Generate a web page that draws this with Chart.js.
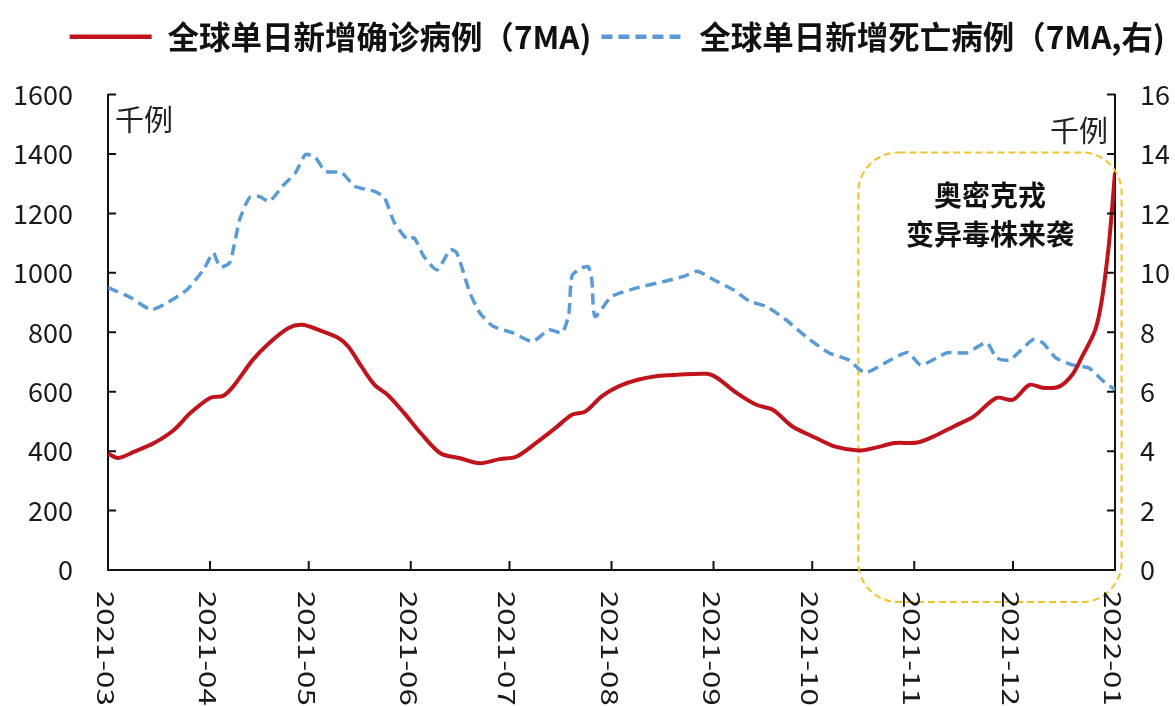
<!DOCTYPE html>
<html><head><meta charset="utf-8">
<script src="https://cdn.jsdelivr.net/npm/chart.js@4.4.1/dist/chart.umd.min.js"></script>
<style>html,body{margin:0;padding:0;background:#fff;}#wrap{width:1175px;height:706px;}</style>
</head><body><div id="wrap"><canvas id="c" width="1175" height="706"></canvas></div>
<script>
const monthLabels = ['2021-03','2021-04','2021-05','2021-06','2021-07','2021-08','2021-09','2021-10','2021-11','2021-12','2022-01'];
const leftTickValues = [0,200,400,600,800,1000,1200,1400,1600];
const rightTickValues = [0,2,4,6,8,10,12,14,16];
const seriesNames = ['全球单日新增确诊病例（7MA)', '全球单日新增死亡病例（7MA,右)'];

const caseDates = ['2021-03-01','2021-03-04','2021-03-09','2021-03-15','2021-03-21','2021-03-26','2021-04-01','2021-04-05','2021-04-08','2021-04-14','2021-04-19','2021-04-25','2021-04-29','2021-05-04','2021-05-10','2021-05-13','2021-05-17','2021-05-21','2021-05-25','2021-05-30','2021-06-04','2021-06-10','2021-06-16','2021-06-22','2021-06-28','2021-07-03','2021-07-09','2021-07-15','2021-07-20','2021-07-24','2021-07-29','2021-08-03','2021-08-09','2021-08-15','2021-08-21','2021-08-30','2021-09-02','2021-09-08','2021-09-14','2021-09-19','2021-09-25','2021-10-02','2021-10-08','2021-10-15','2021-10-20','2021-10-26','2021-11-02','2021-11-08','2021-11-13','2021-11-19','2021-11-26','2021-12-01','2021-12-06','2021-12-10','2021-12-15','2021-12-19','2021-12-22','2021-12-26','2021-12-28','2021-12-30','2021-12-31','2022-01-01'];
const caseValues = [392,377,398,427,471,528,579,586,617,707,764,815,825,808,781,752,685,623,589,528,461,393,376,359,373,381,427,478,522,533,584,617,640,653,657,660,647,596,556,539,483,445,415,402,411,427,429,455,483,516,579,573,623,613,617,657,718,808,909,1080,1202,1337];

const deathDates = ['2021-03-01','2021-03-08','2021-03-14','2021-03-19','2021-03-25','2021-03-30','2021-04-02','2021-04-04','2021-04-07','2021-04-10','2021-04-13','2021-04-16','2021-04-19','2021-04-23','2021-04-27','2021-04-30','2021-05-03','2021-05-06','2021-05-11','2021-05-15','2021-05-21','2021-05-24','2021-05-27','2021-05-31','2021-06-02','2021-06-05','2021-06-09','2021-06-13','2021-06-15','2021-06-19','2021-06-22','2021-06-26','2021-07-02','2021-07-08','2021-07-13','2021-07-17','2021-07-19','2021-07-20','2021-07-23','2021-07-25','2021-07-26','2021-07-27','2021-08-01','2021-08-09','2021-08-17','2021-08-23','2021-08-27','2021-09-02','2021-09-07','2021-09-12','2021-09-17','2021-09-23','2021-09-29','2021-10-06','2021-10-12','2021-10-17','2021-10-24','2021-10-30','2021-11-03','2021-11-11','2021-11-17','2021-11-23','2021-11-26','2021-11-30','2021-12-07','2021-12-10','2021-12-14','2021-12-19','2021-12-24','2021-12-28','2022-01-01'];
const deathValues = [9.5,9.16,8.76,8.99,9.43,10.1,10.67,10.2,10.34,11.79,12.53,12.57,12.4,12.91,13.37,13.98,13.88,13.42,13.37,12.91,12.74,12.53,11.69,11.12,11.18,10.55,10.1,10.78,10.67,9.32,8.65,8.2,7.98,7.69,8.08,7.98,8.6,9.9,10.17,10.2,9.77,8.53,9.2,9.5,9.71,9.88,10.05,9.71,9.43,9.04,8.87,8.42,7.86,7.31,7.07,6.64,7.02,7.32,6.9,7.31,7.31,7.65,7.14,7.07,7.75,7.65,7.14,6.9,6.8,6.4,6.06];

const unitLabel = '千例';
const noteLines = ['奥密克戎', '变异毒株来袭'];
const noteBox = {x0: '2021-10-15', x1: '2022-01-03', yTop: 1405, yBottom: -108};

const FONT = "'Noto Sans CJK SC', 'Noto Sans', sans-serif";
const base = Date.UTC(2021, 2, 1);
function toDay(s) { const p = s.split('-').map(Number); return (Date.UTC(p[0], p[1]-1, p[2] || 1) - base) / 86400000; }
const monthDays = monthLabels.map(toDay);

const overlay = {
  id: 'overlay',
  beforeDatasetsDraw(chart) {
    const ctx = chart.ctx, x = chart.scales.x, y = chart.scales.y;
    const L = x.getPixelForValue(toDay(noteBox.x0)), R = x.getPixelForValue(toDay(noteBox.x1));
    const T = y.getPixelForValue(noteBox.yTop), B = y.getPixelForValue(noteBox.yBottom);
    ctx.save();
    ctx.strokeStyle = '#f0c22a'; ctx.lineWidth = 2; ctx.setLineDash([7,4]);
    ctx.beginPath(); ctx.roundRect(L, T, R-L, B-T, 40); ctx.stroke();
    ctx.setLineDash([]);
    ctx.fillStyle = '#111'; ctx.font = 'bold 28px ' + FONT; ctx.textAlign = 'center'; ctx.textBaseline = 'middle';
    const cx = (L + R) / 2;
    ctx.fillText(noteLines[0], cx, T + 43);
    ctx.fillText(noteLines[1], cx, T + 82);
    ctx.restore();
  },
  afterDraw(chart) {
    const ctx = chart.ctx, x = chart.scales.x, y = chart.scales.y, y1 = chart.scales.y1;
    const a = chart.chartArea;
    ctx.save();
    ctx.strokeStyle = '#111'; ctx.lineWidth = 2;
    ctx.beginPath();
    monthDays.forEach(d => { const px = x.getPixelForValue(d); ctx.moveTo(px, a.bottom); ctx.lineTo(px, a.bottom - 9); });
    leftTickValues.forEach(v => { const py = y.getPixelForValue(v); ctx.moveTo(a.left, py); ctx.lineTo(a.left + 8, py); });
    rightTickValues.forEach(v => { const py = y1.getPixelForValue(v); ctx.moveTo(a.right, py); ctx.lineTo(a.right - 8, py); });
    ctx.stroke();
    ctx.fillStyle = '#1a1a1a'; ctx.font = '24px ' + FONT; ctx.textAlign = 'left'; ctx.textBaseline = 'alphabetic';
    monthLabels.forEach((l, i) => {
      const px = x.getPixelForValue(monthDays[i]);
      ctx.save(); ctx.translate(px - 11, a.bottom + 21); ctx.rotate(Math.PI / 2); ctx.scale(1.3, 1); ctx.fillText(l, 0, 0); ctx.restore();
    });
    ctx.font = '29px ' + FONT; ctx.fillStyle = '#222'; ctx.textBaseline = 'middle';
    ctx.textAlign = 'left'; ctx.fillText(unitLabel, a.left + 7, y.getPixelForValue(1515));
    ctx.textAlign = 'right'; ctx.fillText(unitLabel, a.right - 7, y1.getPixelForValue(14.77));
    ctx.restore();
  }
};

new Chart(document.getElementById('c'), {
  type: 'line',
  data: {
    datasets: [
      { label: seriesNames[0], data: caseDates.map((d, i) => ({x: toDay(d), y: caseValues[i]})), yAxisID: 'y',
        borderColor: '#c0141c', backgroundColor: '#c0141c', borderWidth: 4, pointRadius: 0, tension: 0.3, fill: false },
      { label: seriesNames[1], data: deathDates.map((d, i) => ({x: toDay(d), y: deathValues[i]})), yAxisID: 'y1',
        borderColor: '#5b9bd5', backgroundColor: '#5b9bd5', borderWidth: 3.5, borderDash: [11, 6], pointRadius: 0, tension: 0.2, fill: false }
    ]
  },
  options: {
    responsive: false, animation: false, devicePixelRatio: 1,
    layout: { padding: { top: 11, left: 0, right: 0, bottom: 0 } },
    plugins: {
      legend: { display: true, position: 'top', align: 'end',
        labels: { font: { family: FONT, size: 31.5, weight: 'bold' }, color: '#111', usePointStyle: true, pointStyle: 'line', pointStyleWidth: 82, padding: 10,
          generateLabels: chart => Chart.defaults.plugins.legend.labels.generateLabels(chart).map(it => {
            const ds = chart.data.datasets[it.datasetIndex];
            it.lineDash = ds.borderDash || []; it.lineWidth = 4.5; it.strokeStyle = ds.borderColor; it.fillStyle = ds.borderColor;
            return it; }) } },
      subtitle: { display: true, text: ' ', weight: 500, font: { size: 10, lineHeight: 1 }, padding: { top: 22, bottom: 0 } },
      tooltip: { enabled: false }
    },
    scales: {
      x: { type: 'linear', min: 0, max: monthDays[monthDays.length - 1],
        afterBuildTicks: s => { s.ticks = monthDays.map(v => ({value: v})); },
        afterFit: s => { s.height = 136; },
        ticks: { display: false }, grid: { display: false, drawTicks: false },
        border: { display: true, color: '#111', width: 2 } },
      y: { position: 'left', min: 0, max: 1600,
        afterBuildTicks: s => { s.ticks = leftTickValues.map(v => ({value: v})); },
        afterFit: s => { s.width = 108; },
        ticks: { font: { family: FONT, size: 27 }, color: '#1a1a1a', padding: 35, callback: v => String(v) },
        grid: { display: false, drawTicks: false }, border: { display: true, color: '#111', width: 2 } },
      y1: { position: 'right', min: 0, max: 16,
        afterBuildTicks: s => { s.ticks = rightTickValues.map(v => ({value: v})); },
        afterFit: s => { s.width = 60; },
        ticks: { font: { family: FONT, size: 27 }, color: '#1a1a1a', padding: 25, callback: v => String(v) },
        grid: { display: false, drawTicks: false }, border: { display: true, color: '#111', width: 2 } }
    }
  },
  plugins: [overlay]
});
</script></body></html>
